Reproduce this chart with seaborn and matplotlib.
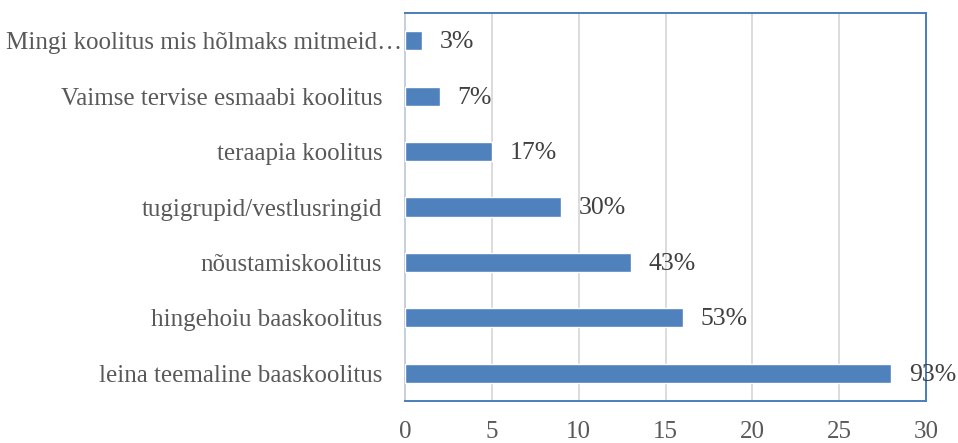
import pandas as pd
import matplotlib
matplotlib.use('Agg')
import matplotlib.pyplot as plt
import seaborn as sns

# Data (count of respondents, n = 30)
categories = [
    'Mingi koolitus mis hõlmaks mitmeid…',
    'Vaimse tervise esmaabi koolitus',
    'teraapia koolitus',
    'tugigrupid/vestlusringid',
    'nõustamiskoolitus',
    'hingehoiu baaskoolitus',
    'leina teemaline baaskoolitus',
]
counts = [1, 2, 5, 9, 13, 16, 28]
pct_labels = ['3%', '7%', '17%', '30%', '43%', '53%', '93%']

df = pd.DataFrame({'koolitus': categories, 'arv': counts})

sns.set_style('white')
plt.rcParams['font.family'] = ['Liberation Serif', 'DejaVu Serif']

TXT = '#595959'
FS = 18

fig = plt.figure(figsize=(9.58, 4.43), dpi=100)
ax = fig.add_axes([0.4228, 0.0948, 0.5438, 0.8758])

sns.barplot(data=df, x='arv', y='koolitus', orient='h', color='#4f81bd',
            width=0.345, saturation=1, ax=ax, zorder=3)

# Percent labels next to each bar
for i, (v, lab) in enumerate(zip(counts, pct_labels)):
    ax.annotate(lab, xy=(v, i), xytext=(12.5, -1), textcoords='offset points',
                va='center', ha='left', fontsize=18.5, color='#404040',
                annotation_clip=False, zorder=5)

ax.set_xlim(0, 30)
ax.set_ylim(6.5, -0.5)
ax.set_xticks(range(0, 31, 5))
ax.xaxis.grid(True, color='#d9d9d9', linewidth=1.3, zorder=0)
ax.yaxis.grid(False)
ax.set_xlabel('')
ax.set_ylabel('')
ax.tick_params(axis='x', length=0, pad=14.5, labelsize=FS, labelcolor=TXT)
ax.tick_params(axis='y', length=0, pad=16.5, labelsize=FS, labelcolor=TXT)

# the truncated first label sits closer to the axis than the others
ax.set_yticks(range(len(categories)))
ax.set_yticklabels([''] + categories[1:])
ax.annotate(categories[0], xy=(0, 0), xytext=(-2, 0), textcoords='offset points',
            va='center_baseline', ha='right', fontsize=FS, color=TXT,
            annotation_clip=False)

for side in ['top', 'right', 'bottom']:
    ax.spines[side].set_color('#4a7ebb')
    ax.spines[side].set_linewidth(1.4)
ax.spines['left'].set_color('#c6cfdc')
ax.spines['left'].set_linewidth(1.4)

fig.savefig('out.png', dpi=100)
